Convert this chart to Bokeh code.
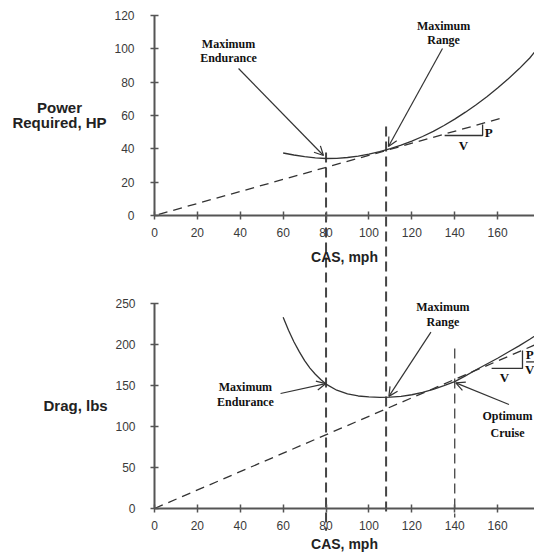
from bokeh.plotting import figure
from bokeh.models import LinearAxis, Range1d, FixedTicker, Arrow, OpenHead
from bokeh.core.properties import value
from bokeh.embed import file_html
from bokeh.resources import INLINE

# ---------------- data ----------------
x_ticks = [0, 20, 40, 60, 80, 100, 120, 140, 160, 180]
power_ticks = [0, 20, 40, 60, 80, 100, 120]
drag_ticks = [0, 50, 100, 150, 200, 250]

# Power required curve (HP) vs CAS (mph)
power_cas = [60, 65, 70, 75, 80, 85, 90, 95, 100, 105, 110, 115, 120, 125, 130,
             135, 140, 145, 150, 155, 160, 165, 170, 175, 180]
power_hp = [37.5, 36.3, 35.3, 34.6, 34.2, 34.3, 34.8, 35.6, 36.8, 38.3, 40.1, 42.2,
            44.6, 47.4, 50.5, 54.0, 57.8, 62.0, 66.5, 71.3, 76.5, 82.0, 88.0, 94.5, 102.5]
power_tangent_cas = [2, 162]
power_tangent_hp = [0.7, 58.5]

# Drag curve (lbs) vs CAS (mph)
drag_cas = [60, 62.5, 65, 67.5, 70, 72.5, 75, 77.5, 80, 85, 90, 95, 100, 105, 110,
            115, 120, 125, 130, 135, 140, 145, 150, 155, 160, 165, 170, 175, 180]
drag_lbs = [233, 217, 203, 191, 180, 171, 163.5, 157, 151.5, 144, 139.5, 137, 135.8,
            135.3, 135.5, 136.5, 138.5, 141.5, 145, 149.5, 154.5, 161.5, 169, 176,
            183, 190.5, 198, 206, 214.5]
drag_tangent_cas = [0, 179]
drag_tangent_lbs = [0, 201]

# Vertical reference speeds
vline_cas = [80, 108, 140]

# P/V slope triangles
pv_top_x = [135.3, 153.0, 153.0]
pv_top_y = [48.0, 48.0, 54.6]
pv_bot_x = [157.2, 171.6, 171.6]
pv_bot_y = [170.5, 170.5, 192.4]

# ---------------- figure ----------------
INK = "#333333"
AXIS = "#555555"

p = figure(width=534, height=552, output_backend="svg", toolbar_location=None,
           x_range=Range1d(-71.8, 177.2), y_range=Range1d(-53.6, 618.6),
           x_axis_type=None, y_axis_type=None, min_border=0,
           outline_line_color=None)
p.extra_y_ranges = {"top": Range1d(-202.2, 129.0)}
p.background_fill_color = "white"
p.border_fill_color = "white"


def style_axis(ax, standoff):
    ax.axis_line_color = AXIS
    ax.axis_line_width = 2
    ax.major_tick_line_color = AXIS
    ax.major_tick_line_width = 1.5
    ax.major_tick_in = 4
    ax.major_tick_out = 4
    ax.minor_tick_line_color = None
    ax.major_label_text_font = "Liberation Sans"
    ax.major_label_text_font_size = "12px"
    ax.major_label_text_color = "#3a3a3a"
    ax.major_label_standoff = standoff
    ax.axis_label_text_font = "Liberation Sans"
    ax.axis_label_text_font_size = "14px"
    ax.axis_label_text_font_style = "bold"
    ax.axis_label_text_color = "#222222"


# top chart x axis (power), located at top-chart zero
ax_tx = LinearAxis(fixed_location=356.8, bounds=(0, 180),
                   ticker=FixedTicker(ticks=x_ticks), axis_label="CAS, mph")
style_axis(ax_tx, 9)
ax_tx.axis_label_standoff = 8
p.add_layout(ax_tx, "below")

# bottom chart x axis (drag)
ax_bx = LinearAxis(fixed_location=0, bounds=(0, 180),
                   ticker=FixedTicker(ticks=x_ticks), axis_label="CAS, mph")
style_axis(ax_bx, 9)
ax_bx.axis_label_standoff = 2
p.add_layout(ax_bx, "below")

# y axes
ax_ty = LinearAxis(fixed_location=0, y_range_name="top", bounds=(0, 120),
                   ticker=FixedTicker(ticks=power_ticks))
style_axis(ax_ty, 16)
p.add_layout(ax_ty, "left")

ax_by = LinearAxis(fixed_location=0, bounds=(0, 250),
                   ticker=FixedTicker(ticks=drag_ticks))
style_axis(ax_by, 15)
p.add_layout(ax_by, "left")

# vertical dashed speed lines (span both charts)
p.segment(x0=vline_cas[:2], x1=vline_cas[:2], y0=[433.5, 465.2], y1=[-27, -8.5],
          line_color="#444444", line_width=2, line_dash="10 5")
p.segment(x0=vline_cas[2:], x1=vline_cas[2:], y0=[194.8], y1=[-11],
          line_color="#444444", line_width=1.3, line_dash="10 5")

# top chart: power required
p.line(power_cas, power_hp, y_range_name="top", line_color=INK, line_width=1.3)
p.line(power_tangent_cas, power_tangent_hp, y_range_name="top",
       line_color=INK, line_width=1.3, line_dash="9 6")
p.line(pv_top_x, pv_top_y, y_range_name="top", line_color=INK, line_width=1.3)

# bottom chart: drag
p.line(drag_cas, drag_lbs, line_color=INK, line_width=1.3)
p.line(drag_tangent_cas, drag_tangent_lbs, line_color=INK, line_width=1.3,
       line_dash="9 6")
p.line(pv_bot_x, pv_bot_y, line_color=INK, line_width=1.3)
p.segment(x0=[173.3], x1=[177.0], y0=[178.5], y1=[178.5], line_color=INK,
          line_width=1.3)

serif = dict(text_font=value("Liberation Serif"), text_font_style="bold",
             text_color="#111111", text_align="center", text_baseline="middle")

# annotations top
p.text(x=[34.5, 34.5, 134.8, 134.8], y=[103.2, 94.8, 114.0, 105.6],
       text=["Maximum", "Endurance", "Maximum", "Range"],
       y_range_name="top", text_font_size="12px", **serif)
p.text(x=[155.8, 144.1], y=[49.6, 42.0], text=["P", "V"], y_range_name="top",
       text_font_size="13px", **serif)

# annotations bottom
p.text(x=[42.4, 42.4, 134.5, 134.5, 164.6, 164.6],
       y=[147.7, 129.4, 245.1, 227.7, 113.2, 91.7],
       text=["Maximum", "Endurance", "Maximum", "Range", "Optimum", "Cruise"],
       text_font_size="12px", **serif)
p.text(x=[175.0, 175.0, 163.2], y=[188.0, 169.0, 159.5], text=["P", "V", "V"],
       text_font_size="13px", **serif)

# axis titles
sans = dict(text_font=value("Liberation Sans"), text_font_style="bold",
            text_color="#222222", text_align="center", text_baseline="middle",
            text_font_size="15px")
p.text(x=[-44.3, -44.3], y=[64.8, 55.8], text=["Power", "Required, HP"],
       y_range_name="top", **sans)
p.text(x=[-36.8], y=[125.6], text=["Drag, lbs"], **sans)

# arrows
head = dict(size=9, line_color=INK, line_width=1.2)
for (x0, y0, x1, y1, rng) in [
    (39.2, 88.2, 78.8, 36.0, "top"),
    (134.3, 100.2, 109.1, 41.4, "top"),
    (58.8, 140.0, 79.8, 152.0, "default"),
    (128.9, 214.7, 109.3, 136.5, "default"),
    (165.3, 126.6, 140.5, 153.0, "default"),
]:
    p.add_layout(Arrow(end=OpenHead(**head), x_start=x0, y_start=y0, x_end=x1,
                       y_end=y1, y_range_name=rng, line_color=INK,
                       line_width=1.2))

open("out.html", "w").write(file_html(p, INLINE))
